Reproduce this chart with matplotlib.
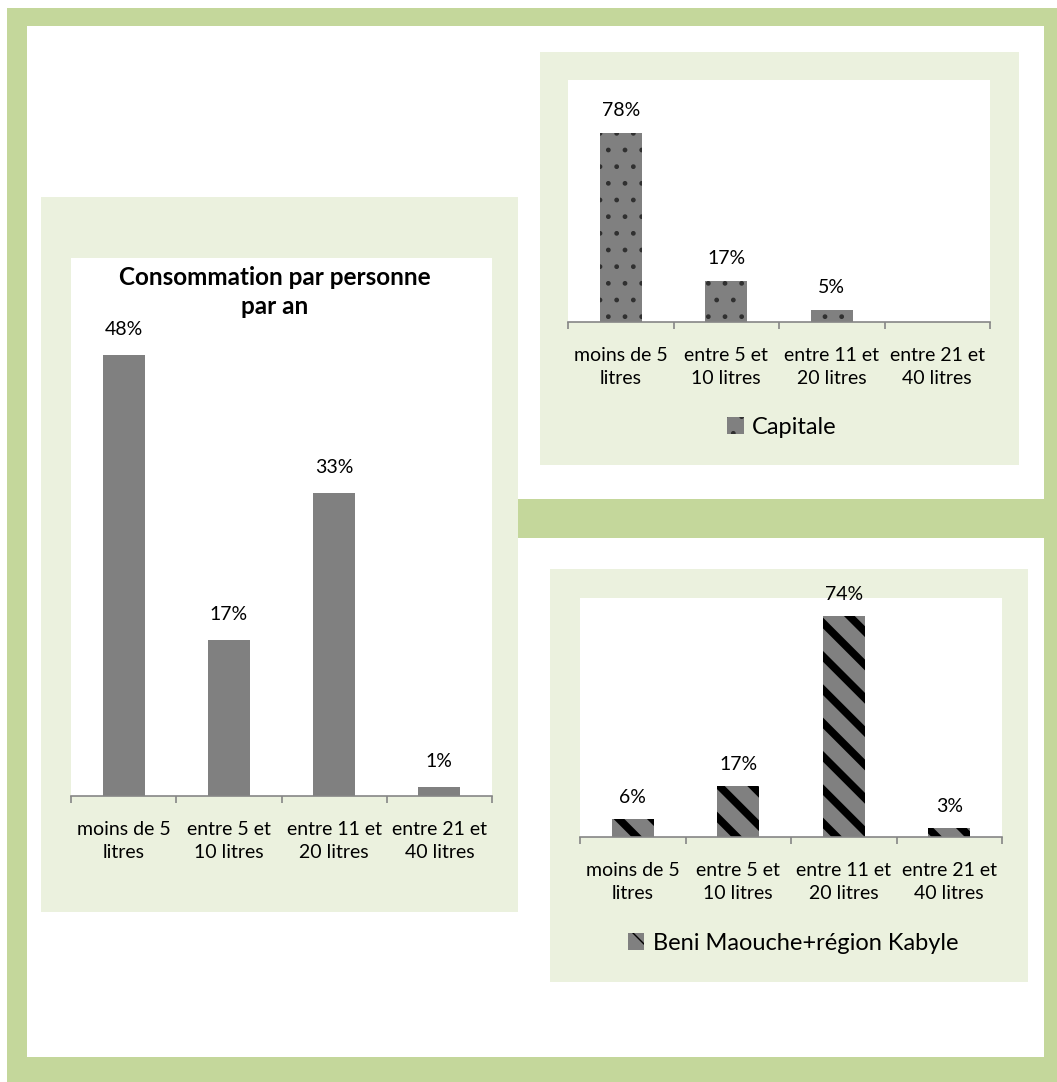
import matplotlib
matplotlib.use("Agg")
import matplotlib.pyplot as plt
from matplotlib.patches import Rectangle

# Data
categories = ["moins de 5\nlitres", "entre 5 et\n10 litres",
              "entre 11 et\n20 litres", "entre 21 et\n40 litres"]
total_values = [48, 17, 33, 1]
capitale_values = [78, 17, 5, 0]
kabyle_values = [6, 17, 74, 3]
title_total = "Consommation par personne\npar an"
label_capitale = "Capitale"
label_kabyle = "Beni Maouche+région Kabyle"

FONT = "Lato"
plt.rcParams["font.family"] = [FONT, "DejaVu Sans"]

W, H = 1057, 1082
fig = plt.figure(figsize=(W / 100, H / 100), dpi=100)
fig.patch.set_facecolor("white")

FRAME_GREEN = "#c4d79b"
PANEL_GREEN = "#ebf1de"
BAR_GRAY = "#808080"
AXIS_GRAY = "#868686"
TICK_SIZE = 14
LEGEND_SIZE = 17


def frac_rect(x0, y0, x1, y1):
    return (x0 / W, 1 - y1 / H, (x1 - x0) / W, (y1 - y0) / H)


def add_bg(x0, y0, x1, y1, color, z):
    l, b, w, h = frac_rect(x0, y0, x1, y1)
    fig.add_artist(Rectangle((l, b), w, h, transform=fig.transFigure,
                             facecolor=color, edgecolor="none", zorder=z))


# Decorative frame and panel backgrounds
add_bg(7, 8, 1057, 1082, FRAME_GREEN, -10)
add_bg(27, 26, 1044, 1057, "white", -9)
add_bg(518, 499, 1044, 538, FRAME_GREEN, -8)
add_bg(41, 197, 518, 912, PANEL_GREEN, -7)
add_bg(540, 52, 1019, 465, PANEL_GREEN, -7)
add_bg(550, 569, 1028, 982, PANEL_GREEN, -7)


def draw_chart(box, values, ymax, hatch=None, hatch_color=BAR_GRAY,
               hatch_lw=1.0, label_pad=10):
    ax = fig.add_axes(frac_rect(*box))
    ax.set_facecolor("white")
    x = list(range(len(values)))
    fracs = [v / 100 for v in values]
    with plt.rc_context({"hatch.linewidth": hatch_lw}):
        bars = ax.bar(x, fracs, width=0.4, color=BAR_GRAY,
                      edgecolor=hatch_color, linewidth=0, hatch=hatch)
    for b in bars:
        if hasattr(b, "set_hatch_linewidth"):
            b.set_hatch_linewidth(hatch_lw)
    labels = [f"{v}%" if v > 0 else "" for v in values]
    ax.bar_label(bars, labels=labels, padding=label_pad, fontsize=TICK_SIZE,
                 color="black", clip_on=False)
    ax.set_xlim(-0.5, len(values) - 0.5)
    ax.set_ylim(0, ymax)
    ax.set_yticks([])
    for s in ("top", "left", "right"):
        ax.spines[s].set_visible(False)
    ax.spines["bottom"].set_color(AXIS_GRAY)
    ax.spines["bottom"].set_linewidth(1.2)
    ax.set_xticks(x, categories)
    ax.set_xticks([i - 0.5 for i in range(len(values) + 1)], minor=True)
    ax.tick_params(axis="x", which="major", length=0, pad=18,
                   labelsize=TICK_SIZE)
    ax.tick_params(axis="x", which="minor", length=5, width=1.2,
                   color=AXIS_GRAY, direction="out")
    for t in ax.get_xticklabels():
        t.set_linespacing(1.45)
    return ax, bars


def add_legend(ax, bars, label, cx, cy):
    ax.legend([bars], [label], loc="center",
              bbox_to_anchor=(cx / W, 1 - cy / H),
              bbox_transform=fig.transFigure, frameon=False,
              handlelength=0.7, handleheight=0.7, handletextpad=0.35,
              fontsize=LEGEND_SIZE)


# Overall chart
ax1, _ = draw_chart((71, 258, 492, 796), total_values, 0.585, label_pad=12)
fig.text(275 / W, 1 - 292 / H, title_total, ha="center", va="center",
         fontsize=17.5, fontweight="bold", linespacing=1.3)

# Capitale
ax2, bars2 = draw_chart((568, 80, 990, 322), capitale_values, 1.0,
                        hatch=".", hatch_color="#303030", hatch_lw=1.0,
                        label_pad=10)
add_legend(ax2, bars2, label_capitale, 782, 427)

# Beni Maouche + région Kabyle
ax3, bars3 = draw_chart((580, 598, 1002, 837), kabyle_values, 0.8,
                        hatch="\\", hatch_color="black", hatch_lw=5.5,
                        label_pad=9.5)
add_legend(ax3, bars3, label_kabyle, 793, 943)

fig.savefig("out.png", dpi=100)
